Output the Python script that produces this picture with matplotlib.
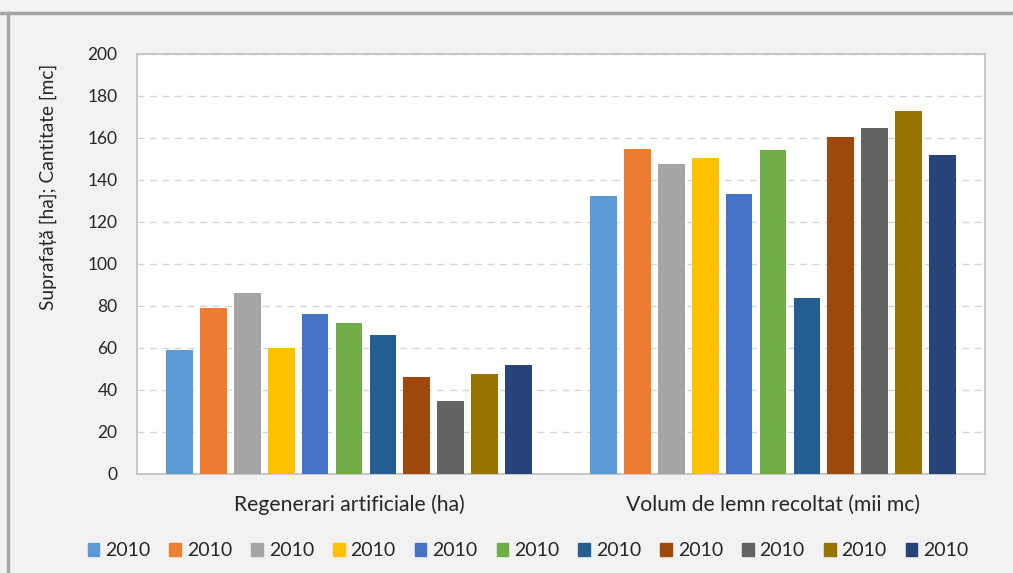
import numpy as np
import matplotlib.pyplot as plt
from matplotlib.patches import Rectangle
from matplotlib.lines import Line2D

# Datos
categorii = ["Regenerari artificiale (ha)", "Volum de lemn recoltat (mii mc)"]
serii = ["2010"] * 11
regenerari = [59, 79, 86, 60, 76, 72, 66, 46, 35, 47.5, 52]
volum = [132.5, 154.7, 147.5, 150.5, 133.2, 154.2, 83.8, 160.7, 164.7, 172.9, 152]
culori = ["#5B9BD5", "#ED7D31", "#A5A5A5", "#FFC000", "#4472C4", "#70AD47",
          "#255E91", "#9E480E", "#636363", "#997300", "#264478"]

plt.rcParams['font.family'] = ['Lato', 'DejaVu Sans']

fig = plt.figure(figsize=(10.13, 5.73), dpi=100)
fig.patch.set_facecolor('#f2f2f2')

# chenar exterior (sus si stanga)
fig.add_artist(Line2D([0, 1], [1 - 13 / 573, 1 - 13 / 573], color='#a6a6a6', lw=2.5))
fig.add_artist(Line2D([8 / 1013, 8 / 1013], [0, 1 - 13 / 573], color='#a6a6a6', lw=2.5))

ax = fig.add_axes([137 / 1013, 1 - 474 / 573, 848 / 1013, 420 / 573])
ax.set_facecolor('white')

x = np.arange(len(categorii))
pas = 0.08
latime = 0.063
for i in range(len(serii)):
    valori = [regenerari[i], volum[i]]
    ax.bar(x + (i - 5) * pas, valori, width=latime, color=culori[i], label=serii[i], zorder=3)

ax.set_xlim(-0.5, 1.5)
ax.set_ylim(0, 200)
ax.set_yticks(np.arange(0, 201, 20))
ax.set_xticks(x)
ax.set_xticklabels(categorii, fontsize=15.2, color='#262626')
ax.tick_params(axis='both', length=0, colors='#262626')
ax.tick_params(axis='y', pad=14, labelsize=12.5)
ax.tick_params(axis='x', pad=15)
ax.grid(axis='y', color='#d6d6d6', linestyle=(0, (5, 4)), lw=1, zorder=0)
for s in ax.spines.values():
    s.set_color('#bfbfbf')
    s.set_linewidth(1.2)

fig.text(48 / 1013, 1 - 187 / 573, "Suprafață [ha]; Cantitate [mc]", rotation=90,
         ha='center', va='center', fontsize=13.8, color='#262626')

handles = [Rectangle((0, 0), 1, 1, color=c) for c in culori]
fig.legend(handles, serii, loc='center', bbox_to_anchor=(528 / 1013, 1 - 551 / 573),
           ncol=11, frameon=False, fontsize=14, handlelength=0.6, handleheight=0.6,
           handletextpad=0.3, columnspacing=0.98, labelcolor='#262626')

fig.savefig('out.png', dpi=100, facecolor=fig.get_facecolor())
